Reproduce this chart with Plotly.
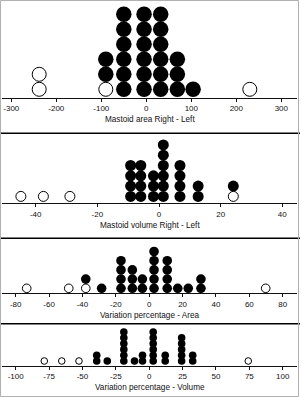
import plotly.graph_objects as go

# ---------------- data (bin centres and dot counts) ----------------
# Panel 1: Mastoid area Right - Left
p1_filled_x = [-90, -50, -5, 32, 69, 104]
p1_filled_n = [2, 6, 6, 6, 3, 1]
p1_open_x = [-238, -90, 230]
p1_open_n = [2, 1, 1]
p1_ticks = [-300, -200, -100, 0, 100, 200, 300]
p1_title = "Mastoid area Right - Left"

# Panel 2: Mastoid volume Right - Left
p2_filled_x = [-9.2, -5.9, -1.8, 1.4, 6.8, 12.7, 24.1]
p2_filled_n = [4, 4, 3, 6, 4, 2, 1]
p2_open_x = [-44.8, -37.5, -28.9, 24.1]
p2_open_n = [1, 1, 1, 1]
p2_ticks = [-40, -20, 0, 20, 40]
p2_title = "Mastoid volume Right - Left"

# Panel 3: Variation percentage - Area
p3_filled_x = [-38, -28.5, -16.9, -10.1, -4.1, 2.9, 10.8, 17.1, 23.4, 31]
p3_filled_n = [1, 1, 4, 3, 2, 5, 4, 1, 1, 2]
p3_open_x = [-73.4, -48.2, -38, 69.8]
p3_open_n = [1, 1, 1, 1]
p3_ticks = [-80, -60, -40, -20, 0, 20, 40, 60, 80]
p3_title = "Variation percentage - Area"

# Panel 4: Variation percentage - Volume
p4_filled_x = [-39.3, -31.4, -19, -11, -5, 3, 12, 24.3, 32.6]
p4_filled_n = [2, 1, 6, 1, 2, 6, 2, 5, 2]
p4_open_x = [-78.6, -65.5, -52.6, 74.2]
p4_open_n = [1, 1, 1, 1]
p4_ticks = [-100, -75, -50, -25, 0, 25, 50, 75, 100]
p4_title = "Variation percentage - Volume"

# ---------------- layout geometry (pixels) ----------------
W, H = 300, 397
panels = [
    dict(fx=p1_filled_x, fn=p1_filled_n, ox=p1_open_x, on=p1_open_n, ticks=p1_ticks, title=p1_title,
         zero=146.3, scale=0.45, top=2, axis=97.7, spacing=15.0, offset=8.4, dsize=15.5, osize=14.0),
    dict(fx=p2_filled_x, fn=p2_filled_n, ox=p2_open_x, on=p2_open_n, ticks=p2_ticks, title=p2_title,
         zero=159.0, scale=3.083, top=135, axis=203.0, spacing=10.3, offset=6.6, dsize=11.0, osize=10.0),
    dict(fx=p3_filled_x, fn=p3_filled_n, ox=p3_open_x, on=p3_open_n, ticks=p3_ticks, title=p3_title,
         zero=149.2, scale=1.669, top=240, axis=293.3, spacing=9.2, offset=5.0, dsize=9.6, osize=8.6),
    dict(fx=p4_filled_x, fn=p4_filled_n, ox=p4_open_x, on=p4_open_n, ticks=p4_ticks, title=p4_title,
         zero=149.2, scale=1.335, top=325.5, axis=365.7, spacing=5.8, offset=4.7, dsize=7.6, osize=6.6),
]
separators = [133.3, 238.3, 323.8]

X0, X1 = 2, 297
FONT = "Liberation Sans, Arial, Helvetica, sans-serif"

fig = go.Figure()
layout = dict(width=W, height=H, margin=dict(l=0, r=0, t=0, b=0),
              paper_bgcolor="white", plot_bgcolor="white", showlegend=False)
annotations = []
shapes = []

def py(px):
    return 1 - px / H

for i, p in enumerate(panels):
    k = "" if i == 0 else str(i + 1)
    xa, ya = "x" + k, "y" + k
    # stack: open circles at bottom of each bin, filled above
    base = {}
    oxs, oys = [], []
    for xv, n in zip(p["ox"], p["on"]):
        for j in range(n):
            oxs.append(xv)
            oys.append(base.get(xv, 0) + j)
        base[xv] = base.get(xv, 0) + n
    fxs, fys = [], []
    for xv, n in zip(p["fx"], p["fn"]):
        b = base.get(xv, 0)
        for j in range(n):
            fxs.append(xv)
            fys.append(b + j)
    fig.add_trace(go.Scatter(x=fxs, y=fys, mode="markers", xaxis=xa, yaxis=ya, cliponaxis=False,
                             marker=dict(size=p["dsize"], color="black", line=dict(width=0)),
                             hoverinfo="skip"))
    fig.add_trace(go.Scatter(x=oxs, y=oys, mode="markers", xaxis=xa, yaxis=ya, cliponaxis=False,
                             marker=dict(size=p["osize"], color="white", line=dict(width=1, color="black")),
                             hoverinfo="skip"))
    xr = [(X0 - p["zero"]) / p["scale"], (X1 - p["zero"]) / p["scale"]]
    hpx = p["axis"] - p["top"]
    y0 = -p["offset"] / p["spacing"]
    yr = [y0, y0 + hpx / p["spacing"]]
    layout["xaxis" + k] = dict(domain=[X0 / W, X1 / W], range=xr, anchor=ya,
                               showline=True, linecolor="#111", linewidth=1,
                               ticks="outside", ticklen=3, tickwidth=1, tickcolor="#111",
                               tickvals=p["ticks"], ticktext=[str(t) for t in p["ticks"]],
                               tickfont=dict(family=FONT, size=8, color="#111"),
                               showgrid=False, zeroline=False, fixedrange=True)
    layout["yaxis" + k] = dict(domain=[py(p["axis"]), py(p["top"])], range=yr, anchor=xa,
                               visible=False, showgrid=False, zeroline=False, fixedrange=True)
    annotations.append(dict(text=p["title"], xref="paper", yref="paper", x=149.5 / W,
                            y=py(p["axis"] + 22), xanchor="center", yanchor="middle",
                            showarrow=False, font=dict(family=FONT, size=8.2, color="#111")))

for s in separators:
    shapes.append(dict(type="line", xref="paper", yref="paper", x0=0, x1=1, y0=py(s), y1=py(s),
                       line=dict(color="black", width=1.6)))
shapes.append(dict(type="rect", xref="paper", yref="paper", x0=0.5 / W, x1=1 - 1.5 / W,
                   y0=0.5 / H, y1=1 - 0.5 / H, line=dict(color="#b0b0b0", width=1)))

layout["annotations"] = annotations
layout["shapes"] = shapes
fig.update_layout(**layout)
fig.write_html("out.html")
